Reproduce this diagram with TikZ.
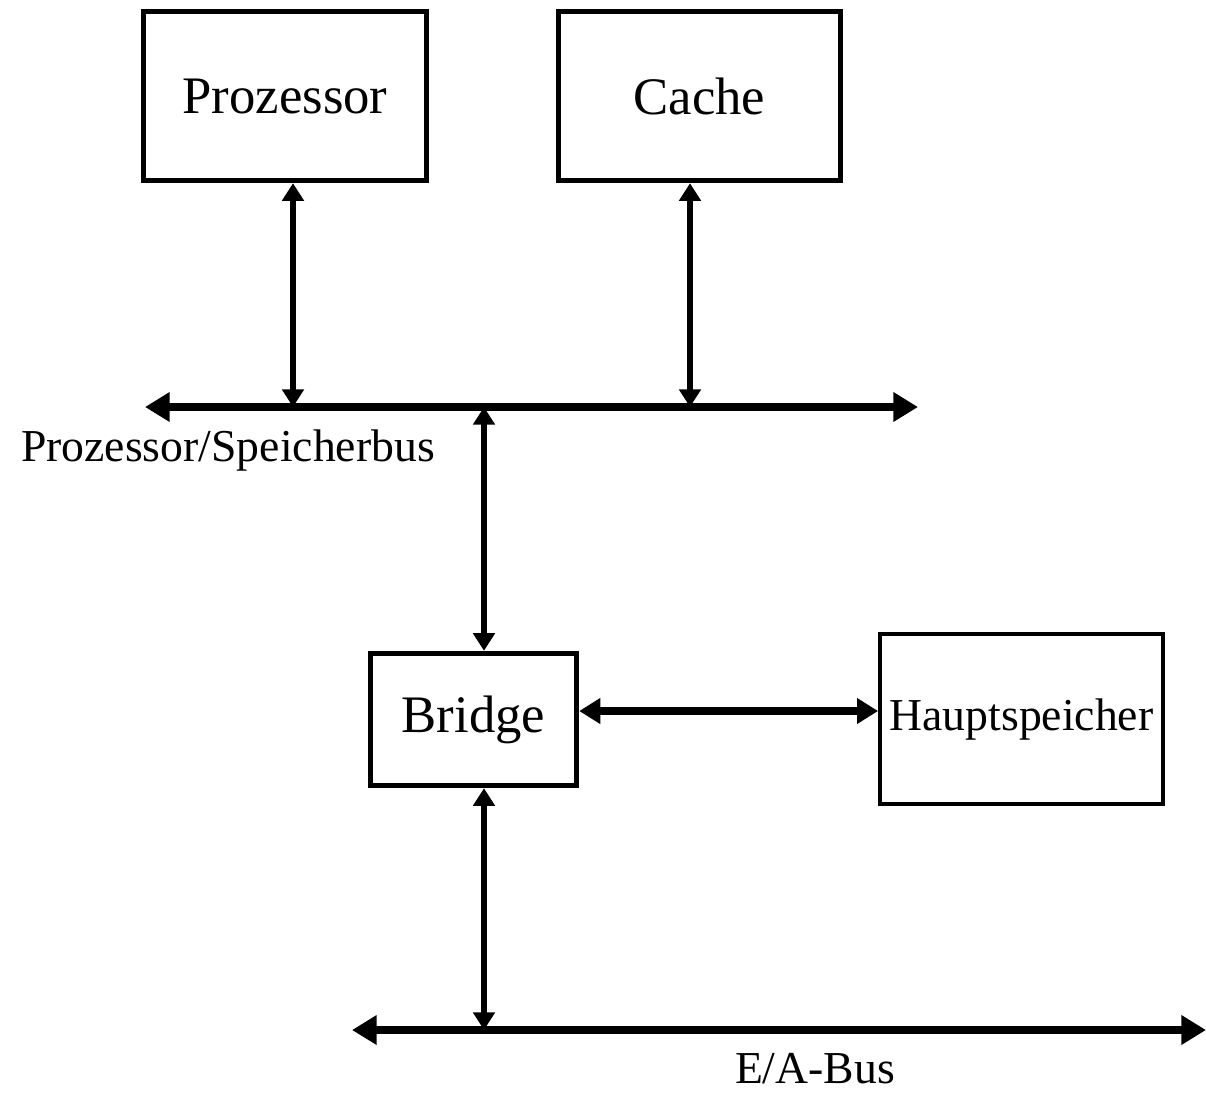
\documentclass[tikz,border=0pt]{standalone}
\usepackage{fontspec}
\setmainfont{Liberation Serif}
\usetikzlibrary{arrows.meta}
\begin{document}
\begin{tikzpicture}[x=0.02cm,y=-0.02cm,
  box/.style={draw,line width=3.1pt,inner sep=0pt,font=\fontsize{30}{32}\selectfont},
  thinbox/.style={draw,line width=2.5pt,inner sep=0pt,font=\fontsize{26}{28}\selectfont},
  busline/.style={line width=5pt,{Triangle[length=14pt,width=16pt]}-{Triangle[length=14pt,width=16pt]}},
  conn/.style={line width=3.6pt,{Triangle[length=10pt,width=12pt]}-{Triangle[length=10pt,width=12pt]}},
  lbl/.style={inner sep=0pt,font=\fontsize{26}{28}\selectfont}]
\useasboundingbox (0,0) rectangle (1206,1093);
\node[box,minimum width=5.66cm,minimum height=3.38cm] (proz) at (285,96) {Prozessor};
\node[box,minimum width=5.64cm,minimum height=3.38cm] (cache) at (699.5,96) {Cache};
\node[box,minimum width=4.12cm,minimum height=2.64cm] (bridge) at (473.5,719.5) {Bridge};
\node[thinbox,minimum width=5.65cm,minimum height=3.40cm] (haupt) at (1021.5,719) {Hauptspeicher};
% bus 1
\coordinate (b1L) at (145,407);
\coordinate (b1R) at (918,407);
\coordinate (b1p) at (293,407);
\coordinate (b1c) at (690,407);
\coordinate (b1b) at (484,407);
\draw[busline] (b1L) -- (b1R);
\node[lbl] (lbl1) at (228,451) {Prozessor/Speicherbus};
% bus 2
\coordinate (b2L) at (352,1030);
\coordinate (b2R) at (1206,1030);
\coordinate (b2b) at (484,1030);
\draw[busline] (b2L) -- (b2R);
\node[lbl] (lbl2) at (815,1069) {E/A-Bus};
% connectors
\draw[conn] (proz.south -| b1p) -- (b1p);
\draw[conn] (cache.south -| b1c) -- (b1c);
\draw[conn] (b1b) -- (bridge.north -| b1b);
\draw[conn] (bridge.south -| b2b) -- (b2b);
\coordinate (hm) at (0,711);
\draw[line width=5pt,{Triangle[length=12pt,width=14pt]}-{Triangle[length=12pt,width=14pt]}] (bridge.east |- hm) -- (haupt.west |- hm);
\end{tikzpicture}
\end{document}
